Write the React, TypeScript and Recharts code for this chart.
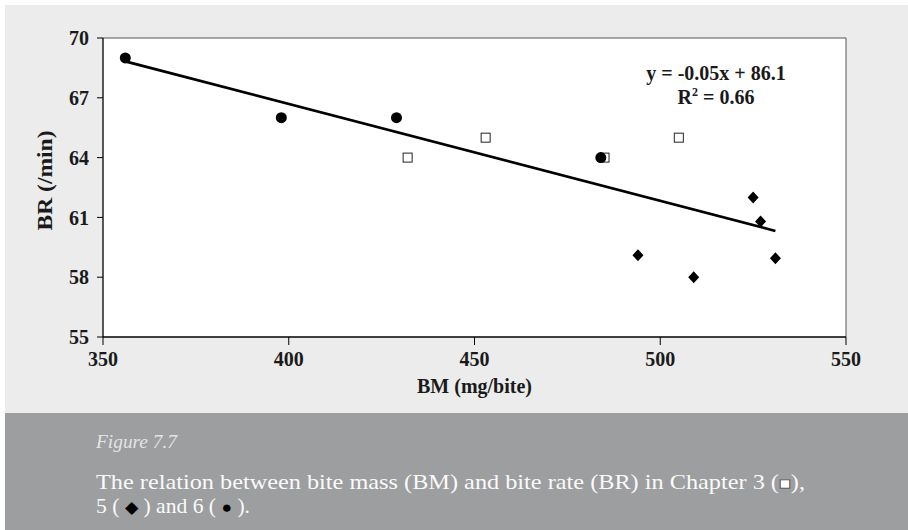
import React from 'react';
import {
  ScatterChart,
  Scatter,
  XAxis,
  YAxis,
  CartesianGrid,
  ReferenceLine,
} from 'recharts';

const SERIF = "'Liberation Serif', 'Times New Roman', serif";
const PANEL_BG = '#ebeceb';
const CAPTION_BG = '#9d9e9f';
const INK = '#1a1a1a';

// Bite mass (mg/bite) and bite rate (/min) per chapter
const ch3BM = [432, 453, 485, 505];
const ch3BR = [64, 65, 64, 65];
const ch5BM = [494, 509, 525, 527, 531];
const ch5BR = [59.1, 58, 62, 60.8, 58.95];
const ch6BM = [356, 398, 429, 484];
const ch6BR = [69, 66, 66, 64];

const xTicks = [350, 400, 450, 500, 550];
const yTicks = [55, 58, 61, 64, 67, 70];

const toPoints = (xs: number[], ys: number[]) => xs.map((x, i) => ({ bm: x, br: ys[i] }));

const ch3 = toPoints(ch3BM, ch3BR);
const ch5 = toPoints(ch5BM, ch5BR);
const ch6 = toPoints(ch6BM, ch6BR);

// least squares fit over all chapters
const fit = (() => {
  const pts = [...ch3, ...ch5, ...ch6];
  const n = pts.length;
  const mx = pts.reduce((s, p) => s + p.bm, 0) / n;
  const my = pts.reduce((s, p) => s + p.br, 0) / n;
  let sxy = 0, sxx = 0, syy = 0;
  pts.forEach((p) => {
    sxy += (p.bm - mx) * (p.br - my);
    sxx += (p.bm - mx) ** 2;
    syy += (p.br - my) ** 2;
  });
  const slope = sxy / sxx;
  const intercept = my - slope * mx;
  const r2 = (sxy * sxy) / (sxx * syy);
  const xs = pts.map((p) => p.bm);
  const x0 = Math.min(...xs);
  const x1 = Math.max(...xs);
  return {
    slope,
    intercept,
    r2,
    line: [
      { bm: x0, br: slope * x0 + intercept },
      { bm: x1, br: slope * x1 + intercept },
    ],
  };
})();

const SquareMark = (props: any) => {
  const { cx, cy } = props;
  return <rect x={cx - 4.5} y={cy - 4.5} width={9} height={9} fill="#fff" stroke="#222" strokeWidth={1} />;
};

const DiamondMark = (props: any) => {
  const { cx, cy } = props;
  return <polygon points={`${cx},${cy - 6} ${cx + 5.5},${cy} ${cx},${cy + 6} ${cx - 5.5},${cy}`} fill="#000" />;
};

const CircleMark = (props: any) => {
  const { cx, cy } = props;
  return <circle cx={cx} cy={cy} r={5.5} fill="#000" />;
};

const NoMark = () => null;

const tickStyle = { fontSize: 20, fontWeight: 'bold', fill: INK, fontFamily: SERIF };

const YTitle = (props: any) => {
  const { viewBox } = props;
  const x = viewBox.x + 45;
  const y = viewBox.y + viewBox.height / 2 - 7;
  return (
    <text
      x={x}
      y={y}
      transform={`rotate(-90, ${x}, ${y})`}
      textAnchor="middle"
      dominantBaseline="central"
      fontFamily={SERIF}
      fontWeight="bold"
      fontSize={20}
      fill={INK}
      textLength={100}
      lengthAdjust="spacingAndGlyphs"
    >
      BR (/min)
    </text>
  );
};

export default function App() {
  const sign = fit.slope < 0 ? '-' : '';
  const eq = `y = ${sign}${Math.abs(fit.slope).toFixed(2)}x + ${fit.intercept.toFixed(1)}`;
  const r2 = fit.r2.toFixed(2);

  return (
    <div style={{ position: 'absolute', left: 0, top: 0, width: 908, height: 530, background: '#fff', overflow: 'hidden' }}>
      <div style={{ position: 'absolute', left: 5, top: 5, width: 903, height: 408, background: PANEL_BG }} />
      <div style={{ position: 'absolute', left: 5, top: 413, width: 903, height: 117, background: CAPTION_BG }} />

      <div style={{ position: 'absolute', left: 0, top: 0 }}>
        <ScatterChart width={908} height={413} margin={{ top: 38, right: 62, bottom: 0, left: 0 }}>
          <CartesianGrid horizontal={false} vertical={false} fill="#fff" />
          <XAxis
            type="number"
            dataKey="bm"
            domain={[350, 550]}
            ticks={xTicks}
            height={76}
            tickSize={8}
            tickMargin={7}
            axisLine={{ stroke: '#000', strokeWidth: 1.3 }}
            tickLine={{ stroke: '#000', strokeWidth: 1 }}
            tick={tickStyle}
            label={{
              value: 'BM (mg/bite)',
              position: 'insideBottom',
              offset: 20,
              style: { fontFamily: SERIF, fontWeight: 'bold', fontSize: 20, fill: INK },
            }}
          />
          <YAxis
            type="number"
            dataKey="br"
            domain={[55, 70]}
            ticks={yTicks}
            width={103}
            tickSize={6}
            tickMargin={8}
            axisLine={{ stroke: '#000', strokeWidth: 1.3 }}
            tickLine={{ stroke: '#000', strokeWidth: 1 }}
            tick={tickStyle}
            label={<YTitle />}
          />
          <ReferenceLine y={70} stroke="#555" strokeWidth={1} />
          <ReferenceLine x={550} stroke="#555" strokeWidth={1} />
          <Scatter
            data={fit.line}
            line={{ stroke: '#000', strokeWidth: 2.6 }}
            shape={NoMark}
            isAnimationActive={false}
          />
          <Scatter data={ch3} shape={SquareMark} isAnimationActive={false} />
          <Scatter data={ch5} shape={DiamondMark} isAnimationActive={false} />
          <Scatter data={ch6} shape={CircleMark} isAnimationActive={false} />
        </ScatterChart>
      </div>

      {/* regression equation */}
      <svg width={908} height={120} style={{ position: 'absolute', left: 0, top: 0 }}>
        <text x={716} y={80} textAnchor="middle" fontFamily={SERIF} fontWeight="bold" fontSize={20} fill={INK}>
          {eq}
        </text>
        <text x={716} y={104} textAnchor="middle" fontFamily={SERIF} fontWeight="bold" fontSize={20} fill={INK}>
          R<tspan fontSize={12} dy={-8}>2</tspan>
          <tspan dy={8}> = {r2}</tspan>
        </text>
      </svg>

      <svg width={908} height={117} style={{ position: 'absolute', left: 0, top: 413 }}>
        <text x={96} y={35} fontFamily={SERIF} fontStyle="italic" fontSize={18} fill="#e4e4e4" textLength={81} lengthAdjust="spacingAndGlyphs">
          Figure 7.7
        </text>
        <text x={96} y={76} fontFamily={SERIF} fontSize={21} fill="#fafafa" textLength={709} lengthAdjust="spacingAndGlyphs">
          The relation between bite mass (BM) and bite rate (BR) in Chapter 3 (
          <tspan fill="#fff" stroke="#444" strokeWidth={0.8} fontSize={17}>■</tspan>),
        </text>
        <text x={96} y={100} fontFamily={SERIF} fontSize={21} fill="#fafafa" textLength={154} lengthAdjust="spacingAndGlyphs">
          5 ( <tspan fill="#000" fontSize={17}>◆</tspan> ) and 6 ( <tspan fill="#000" fontSize={17}>●</tspan> ).
        </text>
      </svg>
    </div>
  );
}
